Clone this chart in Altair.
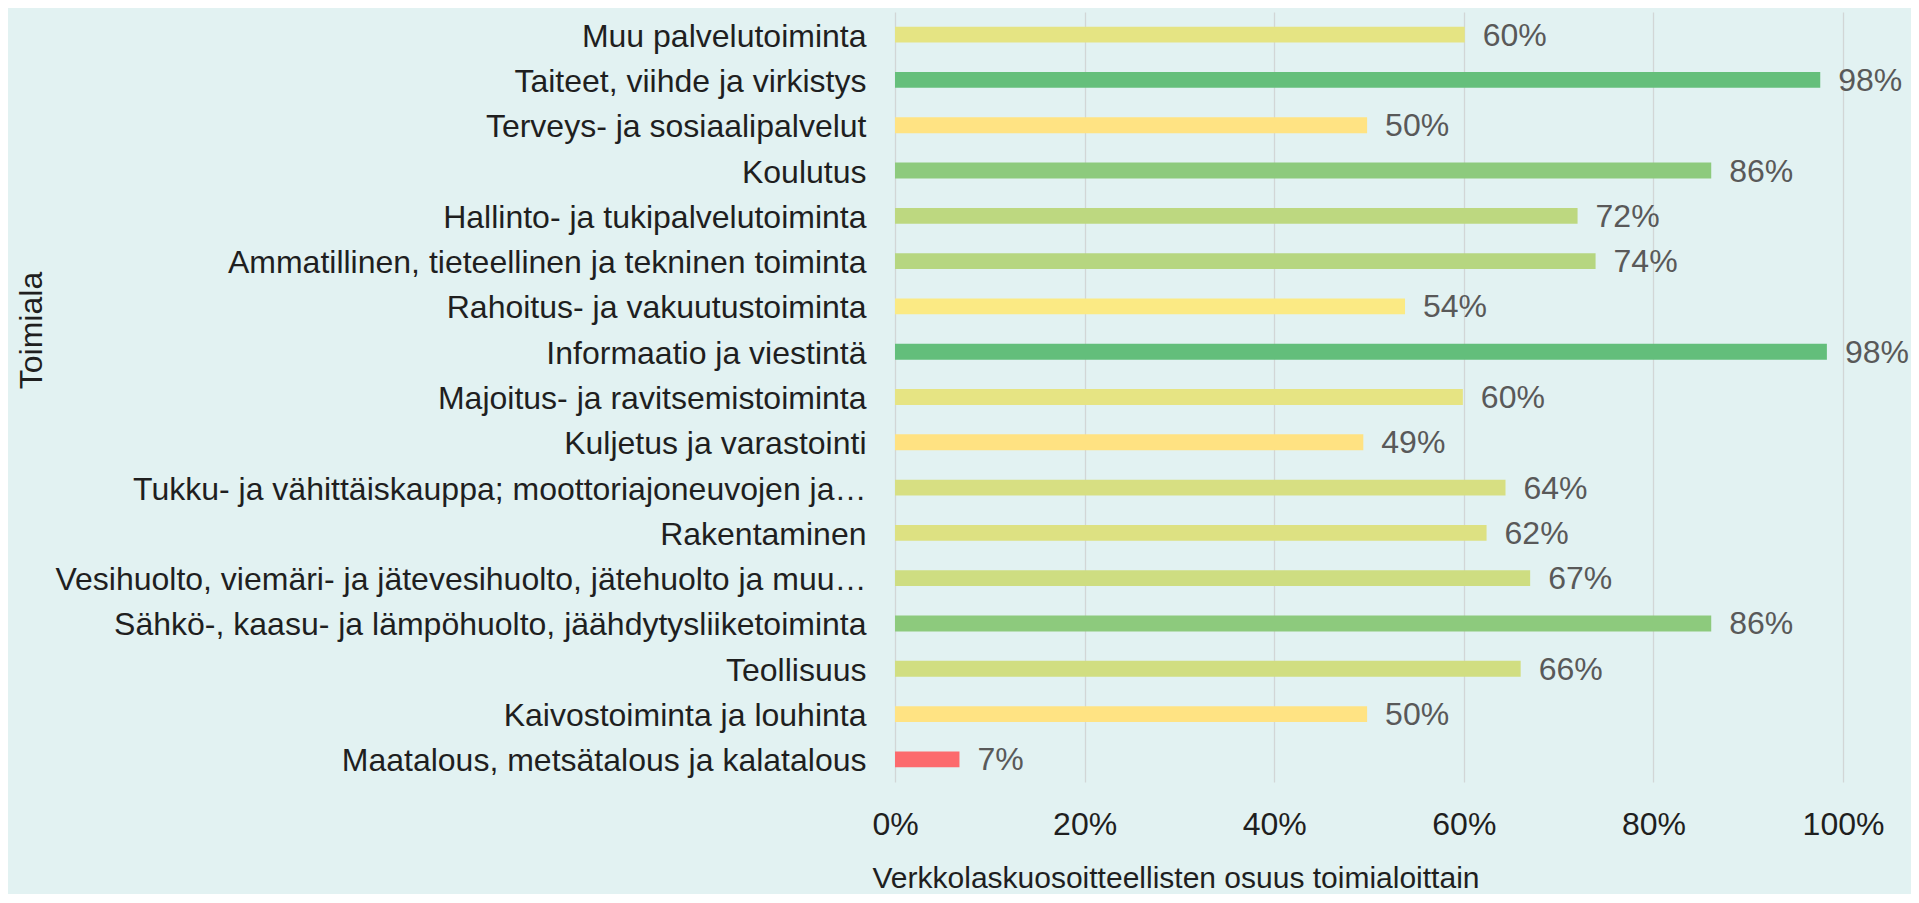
import altair as alt
import pandas as pd

categories = [
    "Muu palvelutoiminta",
    "Taiteet, viihde ja virkistys",
    "Terveys- ja sosiaalipalvelut",
    "Koulutus",
    "Hallinto- ja tukipalvelutoiminta",
    "Ammatillinen, tieteellinen ja tekninen toiminta",
    "Rahoitus- ja vakuutustoiminta",
    "Informaatio ja viestintä",
    "Majoitus- ja ravitsemistoiminta",
    "Kuljetus ja varastointi",
    "Tukku- ja vähittäiskauppa; moottoriajoneuvojen ja…",
    "Rakentaminen",
    "Vesihuolto, viemäri- ja jätevesihuolto, jätehuolto ja muu…",
    "Sähkö-, kaasu- ja lämpöhuolto, jäähdytysliiketoiminta",
    "Teollisuus",
    "Kaivostoiminta ja louhinta",
    "Maatalous, metsätalous ja kalatalous",
]
shares = [60.1, 97.6, 49.8, 86.1, 72.0, 73.9, 53.8, 98.3, 59.9, 49.4,
          64.4, 62.4, 67.0, 86.1, 66.0, 49.8, 6.8]
tick_values = [0, 20, 40, 60, 80, 100]

df = pd.DataFrame({"Toimiala": categories, "Osuus": shares})

FONT = "Liberation Sans"
BG = "#E2F2F2"
lo, hi = min(shares), max(shares)
mid = (lo + hi) / 2

y_enc = alt.Y(
    "Toimiala:N",
    sort=categories,
    scale=alt.Scale(paddingInner=0.65, paddingOuter=0.325),
    title="Toimiala",
    axis=alt.Axis(
        labelFont=FONT, labelFontSize=32, labelColor="#1F1F1F",
        labelPadding=29, labelLimit=1200, labelOffset=2,
        ticks=False, tickSize=0, domain=False, grid=False,
        titleFont=FONT, titleFontSize=32, titleFontWeight="normal",
        titleColor="#1F1F1F", titleAngle=270, titleX=-864, titleY=318,
        titleAlign="center", titleBaseline="middle",
    ),
)

x_enc = alt.X(
    "Osuus:Q",
    scale=alt.Scale(domain=[0, 100], nice=False),
    title="Verkkolaskuosoitteellisten osuus toimialoittain",
    axis=alt.Axis(
        values=tick_values, labelExpr="datum.value + '%'",
        labelFlush=False, labelOverlap=False,
        labelFont=FONT, labelFontSize=32, labelColor="#1F1F1F",
        labelPadding=27, ticks=False, tickSize=0, domain=False,
        grid=True, gridColor="#D2D6D6", gridWidth=1.3,
        titleFont=FONT, titleFontSize=30, titleFontWeight="normal",
        titleColor="#1F1F1F", titleX=-23, titleY=105,
        titleAlign="left", titleBaseline="alphabetic",
    ),
)

base = alt.Chart(df).transform_calculate(
    label="format(datum.Osuus, '.0f') + '%'"
)

bars = base.mark_bar().encode(
    y=y_enc,
    x=x_enc,
    color=alt.Color(
        "Osuus:Q",
        scale=alt.Scale(domain=[lo, mid, hi],
                        range=["#FC6A6D", "#FFEB84", "#63BE7B"],
                        interpolate="rgb"),
        legend=None,
    ),
)

labels = base.mark_text(
    align="left", baseline="middle", dx=18, dy=1,
    font=FONT, fontSize=32, color="#595959",
).encode(
    y=alt.Y("Toimiala:N", sort=categories),
    x=alt.X("Osuus:Q"),
    text="label:N",
)

chart = (
    alt.layer(bars, labels)
    .properties(
        width=948, height=770,
        autosize=alt.AutoSizeParams(type="none"),
        padding={"left": 887, "top": 4, "right": 68, "bottom": 112},
        background=BG,
    )
    .configure_view(stroke=None, fill=BG)
)

chart.save("out.html", embed_options={"renderer": "svg", "actions": False})
